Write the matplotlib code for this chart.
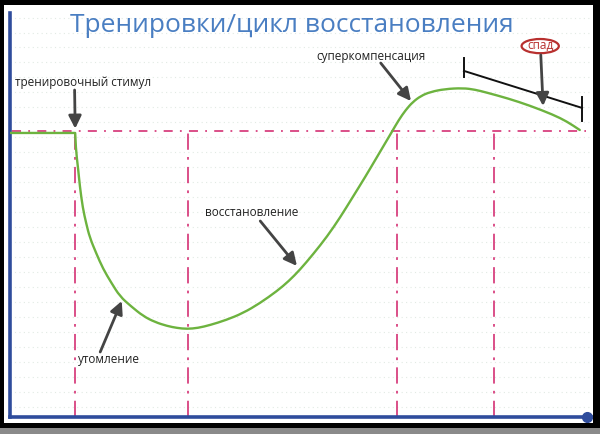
import numpy as np
import matplotlib.pyplot as plt
from matplotlib.patches import Ellipse, Rectangle, PathPatch
from matplotlib.path import Path

plt.rcParams['font.family'] = ['Open Sans', 'DejaVu Sans']

# кривая: время (усл. ед.) и уровень работоспособности (0 = исходный уровень)
time = [0, 11.2, 11.3, 11.7, 12.0, 12.5, 13.1, 13.7, 14.8, 16.0, 17.4, 18.9,
        20.8, 22.9, 24.9, 27.0, 28.7, 30.4, 32.3, 34.4, 37.1, 40.0, 42.9, 45.9,
        47.9, 49.8, 52.1, 54.5, 56.7, 58.9, 61.0, 63.1, 64.4, 65.6, 66.8, 68.0,
        69.2, 70.6, 72.2, 74.7, 77.8, 79.9, 81.9, 85.6, 89.3, 93.3, 95.7, 97.9]
level = [-0.01, -0.01, -0.09, -0.19, -0.28, -0.39, -0.47, -0.54, -0.62, -0.70,
         -0.77, -0.84, -0.89, -0.94, -0.97, -0.99, -1.00, -1.005, -1.00, -0.985,
         -0.96, -0.925, -0.875, -0.812, -0.762, -0.705, -0.625, -0.535, -0.44, -0.335,
         -0.235, -0.13, -0.065, -0.005, 0.056, 0.107, 0.147, 0.178, 0.198, 0.213,
         0.218, 0.210, 0.195, 0.165, 0.129, 0.083, 0.048, 0.005]

phases = [11.2, 30.6, 66.5, 83.2]          # вертикальные линии
y_bottom, y_top = -1.452, 0.599

# подписи и стрелки: текст, позиция текста, хвост стрелки, острие
labels = ['тренировочный стимул', 'суперкомпенсация', 'восстановление', 'утомление']
label_xy = [(0.9, 0.244), (62.0, 0.376), (41.6, -0.416), (11.7, -1.162)]
label_ha = ['left', 'center', 'center', 'left']
arrow_tail = [(11.1, 0.208), (63.7, 0.345), (43.0, -0.457), (15.5, -1.122)]
arrow_tip = [(11.2, 0.012), (68.9, 0.152), (49.3, -0.685), (19.2, -0.863)]

# спад
drop_label = 'спад'
drop_xy = (91.1, 0.431)
drop_tail = (91.2, 0.386)
drop_tip = (91.6, 0.127)
bracket_x = [78.0, 98.3]
bracket_y = [0.305, 0.117]
tick_half = 0.055

title = 'Тренировки/цикл восстановления'

fig = plt.figure(figsize=(6, 4.34), dpi=100)
fig.patch.set_facecolor('white')
ax = fig.add_axes([10/600, 17/434, 582/600, 404/434])
ax.set_xlim(0, 100)
ax.set_ylim(y_bottom, y_top)

# бледная "клетка"
for gy in np.arange(-1.40, 0.6, 0.076):
    ax.axhline(gy, color='#e2eae4', lw=0.8, ls=(0, (1, 3)), zorder=0)

ax.plot([0.3, 99], [0, 0], color='#d8417f', lw=1.3, ls=(0, (5, 4, 1, 4)), zorder=2)
for xv in phases:
    ax.plot([xv, xv], [y_bottom, 0], color='#d8417f', lw=1.3,
            ls=(0, (9, 4, 1.5, 4)), zorder=2)

# плавная кривая: точки служат опорными для квадратичных сегментов
pts = np.column_stack([time, level])
verts = [pts[0], pts[1]]
codes = [Path.MOVETO, Path.LINETO]
for i in range(2, len(pts) - 1):
    verts += [pts[i], (pts[i] + pts[i + 1]) / 2]
    codes += [Path.CURVE3, Path.CURVE3]
verts.append(pts[-1])
codes.append(Path.LINETO)
ax.add_patch(PathPatch(Path(verts, codes), fill=False, ec='#6db33f', lw=1.7,
                       capstyle='round', joinstyle='round', zorder=3))

# скоба спада
ax.plot(bracket_x, bracket_y, color='#111111', lw=1.4, zorder=4)
ax.plot([bracket_x[0]] * 2, [bracket_y[0] - tick_half * 0.6, bracket_y[0] + tick_half * 1.2],
        color='#111111', lw=1.4, zorder=4)
ax.plot([bracket_x[1]] * 2, [bracket_y[1] - tick_half * 1.2, bracket_y[1] + tick_half],
        color='#111111', lw=1.4, zorder=4)

arrow_kw = dict(arrowstyle='-|>', color='#444444', lw=2.0, mutation_scale=19,
                shrinkA=0, shrinkB=0)
for txt, xy, ha, tail, tip in zip(labels, label_xy, label_ha, arrow_tail, arrow_tip):
    ax.text(xy[0], xy[1], txt, ha=ha, va='center', fontsize=8.5, color='#222222')
    ax.annotate('', xy=tip, xytext=tail, arrowprops=arrow_kw, zorder=5)

ax.add_patch(Ellipse(drop_xy, 6.4, 0.072, fill=False, ec='#b8302f', lw=1.6, zorder=5))
ax.text(drop_xy[0], drop_xy[1] + 0.004, drop_label, ha='center', va='center',
        fontsize=8.5, color='#b8302f', zorder=6)
ax.annotate('', xy=drop_tip, xytext=drop_tail, arrowprops=arrow_kw, zorder=5)

# синие оси
for side in ['top', 'right']:
    ax.spines[side].set_visible(False)
for side in ['left', 'bottom']:
    ax.spines[side].set_color('#2f4c9c')
    ax.spines[side].set_linewidth(2.6)
ax.plot([0.992], [0], 'o', color='#2f4c9c', ms=7, transform=ax.transAxes, clip_on=False)
ax.set_xticks([])
ax.set_yticks([])

fig.text(292/600, 1 - 25/434, title, ha='center', va='center', fontsize=19,
         color='#4a7ec2')

# рамка картинки
frame = fig.add_axes([0, 0, 1, 1], facecolor='none')
frame.set_xlim(0, 600)
frame.set_ylim(434, 0)
frame.axis('off')
for (x0, y0, w, h, c) in [(0, 0, 600, 5, 'black'), (0, 0, 4, 434, 'black'),
                          (593, 0, 7, 434, 'black'), (0, 423, 600, 6, 'black'),
                          (0, 428, 600, 6, '#8a8a8a')]:
    frame.add_patch(Rectangle((x0, y0), w, h, color=c, lw=0))

fig.savefig('out.png', dpi=100)
